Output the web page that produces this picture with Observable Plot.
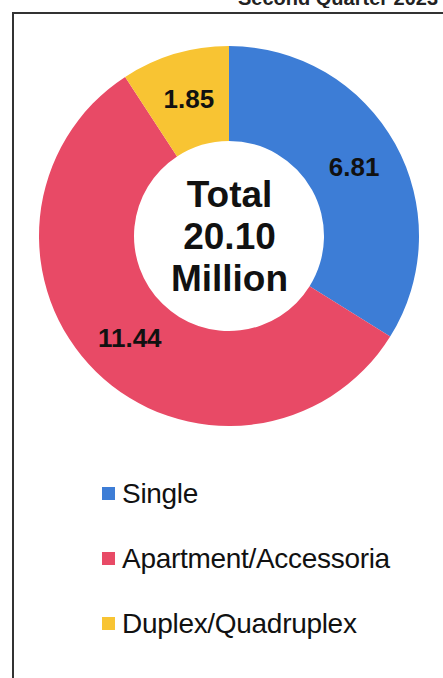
<!DOCTYPE html>
<html>
<head>
<meta charset="utf-8">
<script src="https://cdn.jsdelivr.net/npm/d3@7"></script>
<script src="https://cdn.jsdelivr.net/npm/@observablehq/plot@0.6"></script>
<style>
  html, body { margin: 0; padding: 0; background: #fff; }
  body { width: 443px; height: 678px; overflow: hidden; position: relative;
         font-family: "Liberation Sans", Arial, sans-serif; color: #111; }
  #titleClip { position: absolute; left: 0; top: 0; width: 443px; height: 8px; overflow: hidden; }
  #title { position: absolute; left: 238px; top: -13px; font-size: 20px; font-weight: bold;
           white-space: nowrap; color: #222; }
  #frame { position: absolute; left: 12px; top: 12px; width: 480px; height: 720px;
           border-left: 2px solid #333; border-top: 2px solid #333; }
  #chart { position: absolute; left: 0; top: 0; }
  #legend { position: absolute; left: 102px; top: 461px; }
  .row { height: 65px; display: flex; align-items: center; font-size: 28px; letter-spacing: -0.3px; }
  .sw { width: 13px; height: 13px; margin-right: 7px; flex: none; }
</style>
</head>
<body>
<div id="titleClip"><div id="title">Second Quarter 2023</div></div>
<div id="frame"></div>
<div id="chart"></div>
<div id="legend"></div>
<script>
// ---- data ----
const categories = ["Single", "Apartment/Accessoria", "Duplex/Quadruplex"];
const values = [6.81, 11.44, 1.85];
const colors = ["#3d7dd6", "#e84a66", "#f8c433"];
const centerLines = ["Total", d3.sum(values).toFixed(2), "Million"];

const rows = categories.map((c, i) => ({category: c, value: values[i]}));
const arcs = d3.pie().sort(null).value(d => d.value)(rows);
const innerRatio = 0.5;
const midR = (1 + innerRatio) / 2;
const labels = arcs.map(a => {
  const m = (a.startAngle + a.endAngle) / 2;
  return {x: Math.sin(m) * midR, y: Math.cos(m) * midR, text: a.data.value.toFixed(2)};
});

const W = 443, H = 450;
const cx = 229, cy = 236, R = 190;

function donut(index, scales, values_, dimensions, context) {
  const x0 = scales.x(0), y0 = scales.y(0);
  const r = scales.x(1) - scales.x(0);
  const arcGen = d3.arc().innerRadius(r * innerRatio).outerRadius(r);
  const g = d3.create("svg:g").attr("transform", `translate(${x0},${y0})`);
  g.selectAll("path").data(arcs).join("path")
    .attr("d", arcGen)
    .attr("fill", d => scales.color(d.data.category));
  return g.node();
}

const chart = Plot.plot({
  width: W, height: H,
  marginLeft: cx - R, marginRight: W - (cx + R),
  marginTop: cy - R, marginBottom: H - (cy + R),
  x: {domain: [-1, 1], axis: null},
  y: {domain: [-1, 1], axis: null},
  color: {domain: categories, range: colors},
  style: {fontFamily: "Liberation Sans, Arial, sans-serif", background: "transparent"},
  marks: [
    donut,
    Plot.text(labels, {x: "x", y: "y", text: "text", fontSize: 26, fontWeight: "bold", fill: "#111"}),
    Plot.text([centerLines.join("\n")], {x: [0], y: [0], text: d => d, fontSize: 37, fontWeight: "bold",
      lineHeight: 1.14, fill: "#111", dy: -1})
  ]
});
document.getElementById("chart").appendChild(chart);

// legend
const legend = d3.select("#legend");
categories.forEach((c, i) => {
  const row = legend.append("div").attr("class", "row");
  row.append("div").attr("class", "sw").style("background", colors[i]);
  row.append("span").text(c);
});
</script>
</body>
</html>
